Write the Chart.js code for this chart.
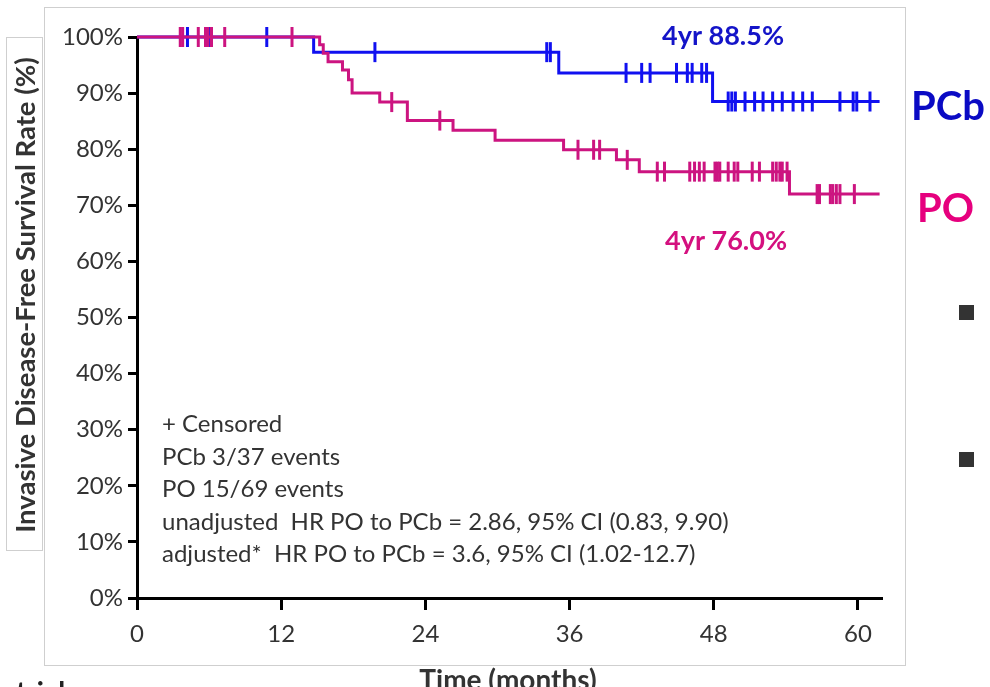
<!DOCTYPE html>
<html>
<head>
<meta charset="utf-8">
<script src="https://cdn.jsdelivr.net/npm/chart.js@4.4.1/dist/chart.umd.min.js"></script>
<style>
  html, body { margin: 0; padding: 0; background: #fff; }
  canvas { display: block; }
</style>
</head>
<body>
<canvas id="km-chart" width="990" height="687"></canvas>
<script>
// Kaplan-Meier curves, values (months, % survival)

// PCb arm: event times and survival after each step
const pcbTimes = [0, 14.7, 35.1, 47.9];
const pcbSurv = [100, 97.3, 93.6, 88.5];
const pcbCensored = [4.2, 5.8, 6.1, 10.8, 19.8, 34.1, 34.4,
    40.7, 42.0, 42.7, 44.9, 45.8, 46.2, 47.0, 47.4,
    49.2, 49.5, 49.8, 50.6, 51.4, 52.1, 52.9, 53.7, 54.6, 55.4, 56.2, 58.5, 59.6, 59.9, 61.0];

// PO arm
const poTimes = [0, 15.2, 15.5, 15.9, 17.1, 17.6, 17.9, 20.2, 22.5, 26.3, 29.8, 35.5, 39.9, 41.8, 54.3];
const poSurv = [100, 98.6, 97.1, 95.6, 94.1, 92.4, 90.0, 88.4, 85.1, 83.4, 81.6, 79.9, 78.1, 76.0, 72.0];
const poCensored = [3.6, 3.8, 5.1, 5.7, 5.9, 6.2, 7.3, 12.9, 21.2, 25.2, 36.7, 38.0, 38.5, 40.8,
    43.3, 43.9, 46.0, 46.4, 46.8, 47.2, 48.1, 48.3, 48.5, 49.2, 49.7, 50.0, 51.2, 51.8,
    52.9, 53.2, 53.5, 53.7, 54.1, 56.6, 56.8, 57.7, 57.9, 58.2, 58.5, 59.7];

const followUpEnd = 61.8;
const xTickValues = [0, 12, 24, 36, 48, 60];
const yTickValues = [0, 10, 20, 30, 40, 50, 60, 70, 80, 90, 100];

const blueLine = '#1010f0';
const magentaLine = '#cc1480';
const FONT = 'Lato, "Open Sans", sans-serif';

// survival value at time t for a step curve
function survivalAt(times, surv, t) {
    let s = surv[0];
    for (let i = 0; i < times.length; i++) {
        if (times[i] <= t) s = surv[i];
    }
    return s;
}

function stepPoints(times, surv) {
    const pts = times.map((t, i) => ({ x: t, y: surv[i] }));
    pts.push({ x: followUpEnd, y: surv[surv.length - 1] });
    return pts;
}

function censorPoints(censored, times, surv) {
    return censored.map(t => ({ x: t, y: survivalAt(times, surv, t) }));
}

// frame, y title box, annotations
const decorations = {
    id: 'decorations',
    beforeDraw(chart) {
        const c = chart.ctx;
        c.save();
        c.fillStyle = '#fff';
        c.fillRect(0, 0, chart.width, chart.height);
        c.strokeStyle = '#cfcfcf';
        c.lineWidth = 1;
        c.strokeRect(44.5, 7.5, 861, 658);
        c.strokeRect(6.5, 37.5, 36, 513);
        c.restore();
    },
    afterDraw(chart) {
        const c = chart.ctx;
        c.save();
        c.textBaseline = 'alphabetic';

        // y axis title
        c.save();
        c.translate(35, 295);
        c.rotate(-Math.PI / 2);
        c.textAlign = 'center';
        c.fillStyle = '#333';
        c.font = 'bold 27.5px ' + FONT;
        c.fillText('Invasive Disease-Free Survival Rate (%)', 0, 0);
        c.restore();

        // x axis title
        c.textAlign = 'center';
        c.fillStyle = '#333';
        c.font = 'bold 28px ' + FONT;
        c.fillText('Time (months)', 508, 690);

        // cut-off text at bottom left
        c.textAlign = 'left';
        c.font = 'bold 28px ' + FONT;
        c.fillStyle = '#222';
        c.fillText('trials', 16, 702);

        // stats block
        const lines = [
            '+ Censored',
            'PCb 3/37 events',
            'PO 15/69 events',
            'unadjusted  HR PO to PCb = 2.86, 95% CI (0.83, 9.90)',
            'adjusted*  HR PO to PCb = 3.6, 95% CI (1.02-12.7)'
        ];
        c.font = '24px ' + FONT;
        c.fillStyle = '#333';
        lines.forEach((l, i) => c.fillText(l, 162, 432 + i * 32.5));

        // 4-year labels and arm names
        c.textAlign = 'center';
        c.font = 'bold 27px ' + FONT;
        c.fillStyle = '#1414c8';
        c.fillText('4yr 88.5%', 723, 45);
        c.fillStyle = '#d4107f';
        c.fillText('4yr 76.0%', 726, 250);

        c.textAlign = 'left';
        c.font = 'bold 40px ' + FONT;
        c.fillStyle = '#0a0ac4';
        c.fillText('PCb', 911, 120);
        c.fillStyle = '#e6007e';
        c.fillText('PO', 917, 222);

        // bullet squares
        c.fillStyle = '#333';
        c.fillRect(959, 305, 15, 15);
        c.fillRect(959, 452, 15, 15);
        c.restore();
    }
};

const ctx = document.getElementById('km-chart');
new Chart(ctx, {
    type: 'line',
    data: {
        datasets: [
            {
                label: 'PO censored',
                type: 'scatter',
                data: censorPoints(poCensored, poTimes, poSurv),
                pointStyle: 'line',
                rotation: 90,
                radius: 10,
                borderColor: magentaLine,
                borderWidth: 3,
                clip: false,
                order: 0
            },
            {
                label: 'PO',
                data: stepPoints(poTimes, poSurv),
                stepped: true,
                borderColor: magentaLine,
                borderWidth: 3,
                pointRadius: 0,
                fill: false,
                clip: false,
                order: 1
            },
            {
                label: 'PCb censored',
                type: 'scatter',
                data: censorPoints(pcbCensored, pcbTimes, pcbSurv),
                pointStyle: 'line',
                rotation: 90,
                radius: 10,
                borderColor: blueLine,
                borderWidth: 3,
                clip: false,
                order: 2
            },
            {
                label: 'PCb',
                data: stepPoints(pcbTimes, pcbSurv),
                stepped: true,
                borderColor: blueLine,
                borderWidth: 3,
                pointRadius: 0,
                fill: false,
                clip: false,
                order: 3
            }
        ]
    },
    options: {
        responsive: false,
        animation: false,
        devicePixelRatio: 1,
        layout: { padding: { left: 0, right: 108, top: 37, bottom: 0 } },
        plugins: {
            legend: { display: false },
            tooltip: { enabled: false }
        },
        scales: {
            x: {
                type: 'linear',
                min: 0,
                max: 62,
                afterBuildTicks: s => { s.ticks = xTickValues.map(v => ({ value: v })); },
                afterFit: s => { s.height = 89; },
                grid: { drawOnChartArea: false, tickLength: 12, tickWidth: 3, tickColor: '#000' },
                border: { display: true, color: '#000', width: 3 },
                ticks: { color: '#333', font: { family: FONT, size: 24 }, padding: 10, maxRotation: 0 }
            },
            y: {
                type: 'linear',
                min: 0,
                max: 100,
                afterBuildTicks: s => { s.ticks = yTickValues.map(v => ({ value: v })); },
                afterFit: s => { s.width = 137; },
                grid: { drawOnChartArea: false, tickLength: 9, tickWidth: 3, tickColor: '#000' },
                border: { display: true, color: '#000', width: 3 },
                ticks: {
                    color: '#333',
                    font: { family: FONT, size: 24 },
                    padding: 5,
                    callback: v => v + '%'
                }
            }
        }
    },
    plugins: [decorations]
});
</script>
</body>
</html>
